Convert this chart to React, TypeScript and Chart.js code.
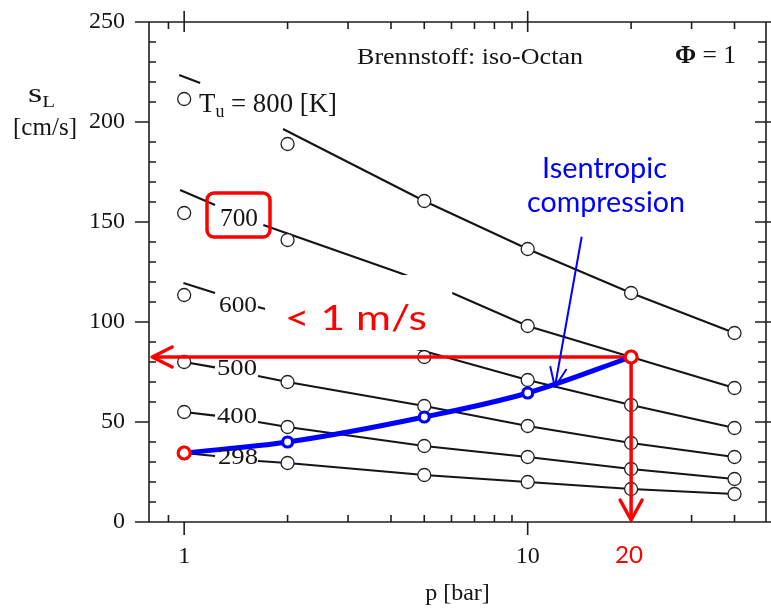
import React, { useEffect, useRef } from 'react';
import { Chart, registerables } from 'chart.js';
Chart.register(...registerables);

const W = 771;
const H = 609;
const SERIF = "'Liberation Serif', 'Times New Roman', serif";
const SANS = "Lato, 'Open Sans', sans-serif";

// measured pressures (bar)
const P = [1, 2, 5, 10, 20, 40];
// laminar burning velocity s_L [cm/s] per unburnt temperature
const S_800 = [211.5, 189, 160.5, 136.5, 114.5, 94.5];
const S_700 = [154.5, 141, null, 98, 82.5, 67];
const S_600 = [113.5, null, 82.5, 71, 58.5, 47];
const S_500 = [80, 70, 58, 48, 39.5, 32.5];
const S_400 = [55, 47.5, 38, 32.5, 26.5, 21.5];
const S_298 = [34.5, 29.5, 23.5, 20, 16.5, 14];

// fitted curves (null = break behind label)
const FIT_800_P = [0.967, 1.113, null, 1.94, 5, 10, 20, 40];
const FIT_800_S = [223.5, 219.5, null, 196.5, 160.5, 136.5, 114.5, 94.5];
const FIT_700_P = [0.973, 1.23, null, 1.7, 4.25, 6.03, 10, 20, 40];
const FIT_700_S = [166, 158.5, null, 148.5, 124.5, 114.5, 98, 82.5, 67];
const FIT_600_P = [0.995, 1.23, null, 1.64, 4.86, 10, 20, 40];
const FIT_600_S = [119.5, 114.5, null, 107.5, 86, 71, 58.5, 47];
const FIT_500_P = [1, 1.23, null, 1.64, 2, 5, 10, 20, 40];
const FIT_500_S = [80, 77.3, null, 73, 70, 58, 48, 39.5, 32.5];
const FIT_400_P = [1, 1.23, null, 1.64, 2, 5, 10, 20, 40];
const FIT_400_S = [55, 53.2, null, 50, 47.5, 38, 32.5, 26.5, 21.5];
const FIT_298_P = [1, 1.23, null, 1.64, 2, 5, 10, 20, 40];
const FIT_298_S = [34.5, 33, null, 30.5, 29.5, 23.5, 20, 16.5, 14];

// isentropic compression path
const ISEN_P = [1, 2, 5, 10, 20];
const ISEN_S = [34.5, 40, 52.5, 64.5, 82.5];

// annotation arrows
const ARROW_H_P = [20, 0.807];
const ARROW_H_S = [82.5, 82.5];
const ARROW_V_P = [20, 20];
const ARROW_V_S = [82.5, 1];
const POINTER_P = [14.36, 12.0];
const POINTER_S = [142.6, 67.5];

// axes
const Y_TICKS = [0, 50, 100, 150, 200, 250];
const X_TICKS = [1, 10];
const X_MINOR = [0.9, 2, 3, 4, 5, 6, 7, 8, 9, 20, 30, 40];
const TEMP_LABELS = ['800', '700', '600', '500', '400', '298'];

const pts = (ps: (number | null)[], ss: (number | null)[]) =>
  ps.map((p, i) => (p == null || ss[i] == null ? { x: null, y: null } : { x: p, y: ss[i] }));
const circlePts = (ss: (number | null)[]) =>
  P.map((p, i) => ({ x: p, y: ss[i] })).filter((d) => d.y != null);

type Part = { t: string; font: string; dy?: number };
function rich(ctx: CanvasRenderingContext2D, x: number, y: number, parts: Part[], targetW: number, color: string) {
  ctx.save();
  ctx.fillStyle = color;
  ctx.textBaseline = 'alphabetic';
  ctx.textAlign = 'left';
  let total = 0;
  const ws = parts.map((p) => {
    ctx.font = p.font;
    const w = ctx.measureText(p.t).width;
    total += w;
    return w;
  });
  ctx.translate(x, y);
  ctx.scale(targetW / total, 1);
  let cx = 0;
  parts.forEach((p, i) => {
    ctx.font = p.font;
    ctx.fillText(p.t, cx, p.dy || 0);
    cx += ws[i];
  });
  ctx.restore();
}

const axisPlugin = {
  id: 'axisFrame',
  beforeDatasetsDraw(chart: any) {
    const { ctx, chartArea: a, scales } = chart;
    const xs = scales.x;
    const ys = scales.y;
    ctx.save();
    ctx.strokeStyle = '#1e1e1e';
    ctx.lineWidth = 1.6;
    ctx.beginPath();
    ctx.rect(a.left, a.top, a.right - a.left, a.bottom - a.top);
    for (let v = 0; v <= 250; v += 10) {
      const y = ys.getPixelForValue(v);
      if (v % 50 === 0) {
        ctx.moveTo(a.left - 14, y); ctx.lineTo(a.left, y);
        ctx.moveTo(a.right - 11, y); ctx.lineTo(a.right + 5, y);
      } else {
        ctx.moveTo(a.left, y); ctx.lineTo(a.left + 7, y);
        ctx.moveTo(a.right - 8, y); ctx.lineTo(a.right, y);
      }
    }
    X_TICKS.forEach((p) => {
      const x = xs.getPixelForValue(p);
      ctx.moveTo(x, a.bottom); ctx.lineTo(x, a.bottom + 13);
      ctx.moveTo(x, a.top - 11); ctx.lineTo(x, a.top + 10);
    });
    X_MINOR.forEach((p) => {
      const x = xs.getPixelForValue(p);
      ctx.moveTo(x, a.bottom - 7); ctx.lineTo(x, a.bottom);
      ctx.moveTo(x, a.top); ctx.lineTo(x, a.top + 7);
    });
    ctx.stroke();
    ctx.restore();
  },
  afterDatasetsDraw(chart: any) {
    const { ctx, scales } = chart;
    const xs = scales.x;
    const ys = scales.y;
    // white text box behind "< 1 m/s"
    ctx.save();
    ctx.fillStyle = '#ffffff';
    const bx0 = xs.getPixelForValue(1.72);
    const bx1 = xs.getPixelForValue(6.03);
    const by0 = ys.getPixelForValue(123.5);
    const by1 = ys.getPixelForValue(86);
    ctx.fillRect(bx0, by0, bx1 - bx0, by1 - by0);
    ctx.restore();
    // arrow heads
    chart.data.datasets.forEach((ds: any, i: number) => {
      if (!ds.arrowHead) return;
      const el = chart.getDatasetMeta(i).data;
      const a = el[el.length - 2];
      const b = el[el.length - 1];
      const dx = b.x - a.x;
      const dy = b.y - a.y;
      const L = Math.hypot(dx, dy);
      const ux = dx / L;
      const uy = dy / L;
      const { len, half } = ds.arrowHead;
      ctx.save();
      ctx.strokeStyle = ds.borderColor;
      ctx.lineWidth = ds.borderWidth;
      ctx.lineCap = 'round';
      ctx.lineJoin = 'round';
      ctx.beginPath();
      ctx.moveTo(b.x - ux * len - uy * half, b.y - uy * len + ux * half);
      ctx.lineTo(b.x, b.y);
      ctx.lineTo(b.x - ux * len + uy * half, b.y - uy * len - ux * half);
      ctx.stroke();
      ctx.restore();
    });
  },
  afterDraw(chart: any) {
    const ctx: CanvasRenderingContext2D = chart.ctx;
    const black = '#151515';
    const f = (s: number, b = false) => `${b ? 'bold ' : ''}${s}px ${SERIF}`;
    const fs = (s: number) => `${s}px ${SANS}`;
    rich(ctx, 357, 64, [{ t: 'Brennstoff: iso-Octan', font: f(24) }], 226, black);
    rich(ctx, 675, 63, [{ t: 'Φ', font: f(25, true) }, { t: ' = 1', font: f(25) }], 61, black);
    rich(ctx, 28, 102, [{ t: 's', font: f(28) }, { t: 'L', font: f(16), dy: 5 }], 27, black);
    rich(ctx, 13, 135, [{ t: '[cm/s]', font: f(25) }], 64, black);
    rich(ctx, 199, 112, [
      { t: 'T', font: f(27) },
      { t: 'u', font: f(18), dy: 5 },
      { t: ` = ${TEMP_LABELS[0]} [K]`, font: f(27) },
    ], 138, black);
    rich(ctx, 220, 226, [{ t: TEMP_LABELS[1], font: f(26) }], 38, black);
    rich(ctx, 219, 312, [{ t: TEMP_LABELS[2], font: f(23) }], 38, black);
    rich(ctx, 217, 375, [{ t: TEMP_LABELS[3], font: f(23) }], 40, black);
    rich(ctx, 217, 423, [{ t: TEMP_LABELS[4], font: f(23) }], 40, black);
    rich(ctx, 218, 464, [{ t: TEMP_LABELS[5], font: f(23) }], 40, black);
    rich(ctx, 285, 330, [{ t: '< 1 m/s', font: fs(34) }], 142, '#ff0000');
    rich(ctx, 542, 178, [{ t: 'Isentropic', font: fs(28) }], 125, '#0000ff');
    rich(ctx, 527, 212, [{ t: 'compression', font: fs(28) }], 158, '#0000ff');
    rich(ctx, 615, 563, [{ t: '20', font: fs(23) }], 28, '#ff0000');
    // red highlight box around the 700 label
    ctx.save();
    ctx.strokeStyle = '#ff0000';
    ctx.lineWidth = 3.5;
    ctx.beginPath();
    (ctx as any).roundRect(207, 193, 63, 44, 7);
    ctx.stroke();
    ctx.restore();
  },
};

function buildConfig(): any {
  const lineDs = (ps: (number | null)[], ss: (number | null)[]) => ({
    data: pts(ps, ss),
    showLine: true,
    spanGaps: false,
    borderColor: '#151515',
    borderWidth: 2.1,
    pointRadius: 0,
    tension: 0,
  });
  const circDs = (ss: (number | null)[]) => ({
    data: circlePts(ss),
    showLine: false,
    pointRadius: 6.5,
    pointBorderWidth: 1.3,
    pointBackgroundColor: '#ffffff',
    pointBorderColor: '#222222',
  });
  const datasets: any[] = [
    {
      data: pts(ISEN_P, ISEN_S),
      showLine: true,
      borderColor: '#0000ff',
      borderWidth: 5,
      cubicInterpolationMode: 'monotone',
      pointRadius: [6, 5, 5, 5, 6],
      pointBorderWidth: 3.2,
      pointBackgroundColor: '#ffffff',
      pointBorderColor: ['#ff0000', '#0000ff', '#0000ff', '#0000ff', '#ff0000'],
    },
    {
      data: pts(POINTER_P, POINTER_S),
      showLine: true,
      borderColor: '#0000ff',
      borderWidth: 2,
      pointRadius: 0,
      arrowHead: { len: 19, half: 8 },
    },
    {
      data: pts(ARROW_H_P, ARROW_H_S),
      showLine: true,
      borderColor: '#ff0000',
      borderWidth: 3.5,
      pointRadius: 0,
      arrowHead: { len: 20, half: 10 },
    },
    {
      data: pts(ARROW_V_P, ARROW_V_S),
      showLine: true,
      borderColor: '#ff0000',
      borderWidth: 3.5,
      pointRadius: 0,
      arrowHead: { len: 20, half: 11 },
    },
    circDs(S_800), circDs(S_700), circDs(S_600), circDs(S_500), circDs(S_400), circDs(S_298),
    lineDs(FIT_800_P, FIT_800_S), lineDs(FIT_700_P, FIT_700_S), lineDs(FIT_600_P, FIT_600_S),
    lineDs(FIT_500_P, FIT_500_S), lineDs(FIT_400_P, FIT_400_S), lineDs(FIT_298_P, FIT_298_S),
  ];
  const tickFont = { family: SERIF, size: 24 };
  const zeroPad = (s: any) => {
    s.paddingTop = 0;
    s.paddingBottom = 0;
    s.paddingLeft = 0;
    s.paddingRight = 0;
  };
  return {
    type: 'scatter',
    data: { datasets },
    options: {
      animation: false,
      responsive: false,
      maintainAspectRatio: false,
      devicePixelRatio: 1,
      events: [],
      layout: { autoPadding: false, padding: { left: 0, top: 22, right: 5, bottom: 0 } },
      plugins: { legend: { display: false }, tooltip: { enabled: false } },
      scales: {
        x: {
          type: 'logarithmic',
          min: 0.79,
          max: 49.4,
          border: { display: false },
          grid: { display: false, drawTicks: false },
          afterBuildTicks: (s: any) => { s.ticks = X_TICKS.map((v) => ({ value: v })); },
          afterFit: (s: any) => { s.height = 87; zeroPad(s); },
          ticks: {
            font: tickFont, color: '#151515', padding: 20, maxRotation: 0, autoSkip: false,
            callback: (v: any) => String(v),
          },
          title: {
            display: true, text: 'p [bar]', font: tickFont, color: '#151515',
            padding: { top: 0, bottom: 1 },
          },
        },
        y: {
          type: 'linear',
          min: 0,
          max: 250,
          border: { display: false },
          grid: { display: false, drawTicks: false },
          afterBuildTicks: (s: any) => { s.ticks = Y_TICKS.map((v) => ({ value: v })); },
          afterFit: (s: any) => { s.width = 149; zeroPad(s); },
          ticks: { font: tickFont, color: '#151515', padding: 24 },
        },
      },
    },
    plugins: [axisPlugin],
  };
}

export default function App() {
  const ref = useRef<HTMLCanvasElement>(null);
  useEffect(() => {
    const chart = new Chart(ref.current as HTMLCanvasElement, buildConfig());
    return () => chart.destroy();
  }, []);
  return (
    <div style={{ position: 'absolute', left: 0, top: 0, width: W, height: H, background: '#ffffff' }}>
      <canvas ref={ref} width={W} height={H} style={{ display: 'block', width: W, height: H }} />
    </div>
  );
}
